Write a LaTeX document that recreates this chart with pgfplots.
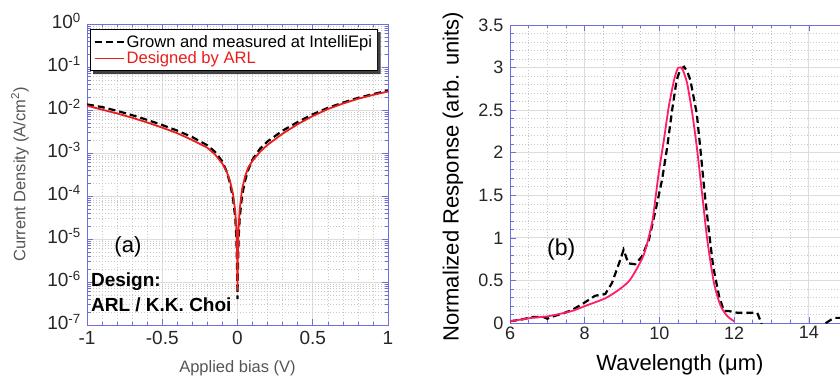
\documentclass[border=0pt]{standalone}
\usepackage{fontspec}
\setmainfont{Liberation Sans}
\usepackage{pgfplots}
\pgfplotsset{compat=1.18}

\definecolor{axblue}{RGB}{110,110,220}
\definecolor{majgrid}{RGB}{220,220,220}
\definecolor{mingrid}{RGB}{200,200,200}
\definecolor{redA}{RGB}{232,30,30}
\definecolor{pinkB}{RGB}{255,30,100}
\definecolor{lblgray}{RGB}{85,85,85}

\pgfplotsset{
  myaxis/.style={
    scale only axis,
    axis line style={axblue, line width=0.8pt},
    every tick/.style={axblue, line width=0.6pt},
    tick align=inside,
    major tick length=6pt,
    minor tick length=3.5pt,
    grid=both,
    major grid style={majgrid, line width=0.8pt},
    minor grid style={mingrid, dash pattern=on 1pt off 2pt, line width=0.6pt},
    clip=true,
  }
}

\pgfplotstableread{
V J
-1.0 1.35e-2
-0.9 1.17e-2
-0.8 9.55e-3
-0.7 7.59e-3
-0.6 5.89e-3
-0.5 4.47e-3
-0.4 3.31e-3
-0.3 2.34e-3
-0.2 1.51e-3
-0.15 1.07e-3
-0.1 6.31e-4
-0.07 3.55e-4
-0.05 2.0e-4
-0.03 8.9e-5
-0.015 3.16e-5
-0.007 1.0e-5
-0.002 1.58e-6
0.0 4.0e-7
0.002 1.58e-6
0.007 1.0e-5
0.015 3.16e-5
0.03 1.0e-4
0.05 2.24e-4
0.07 3.98e-4
0.1 7.08e-4
0.15 1.26e-3
0.2 1.86e-3
0.3 3.31e-3
0.4 5.25e-3
0.5 7.94e-3
0.6 1.12e-2
0.7 1.48e-2
0.8 1.91e-2
0.9 2.34e-2
1.0 2.82e-2
}\measIV

\pgfplotstableread{
V J
-1.0 1.26e-2
-0.9 1.02e-2
-0.8 8.32e-3
-0.7 6.61e-3
-0.6 5.13e-3
-0.5 3.89e-3
-0.4 2.88e-3
-0.3 2.00e-3
-0.2 1.32e-3
-0.15 9.33e-4
-0.1 5.62e-4
-0.07 3.55e-4
-0.05 2.24e-4
-0.03 1.12e-4
-0.015 4.47e-5
-0.007 1.58e-5
-0.002 3.16e-6
0.0 6.31e-7
0.002 3.16e-6
0.007 1.78e-5
0.015 5.01e-5
0.03 1.41e-4
0.05 2.82e-4
0.07 4.47e-4
0.1 6.61e-4
0.15 1.07e-3
0.2 1.55e-3
0.3 2.82e-3
0.4 4.68e-3
0.5 7.24e-3
0.6 1.05e-2
0.7 1.41e-2
0.8 1.82e-2
0.9 2.24e-2
1.0 2.69e-2
}\desIV

\pgfplotstableread{
L R
6.0 0.02
6.3 0.04
6.6 0.07
6.9 0.07
7.0 0.05
7.1 0.07
7.4 0.11
7.65 0.15
7.96 0.23
8.28 0.32
8.55 0.34
8.73 0.47
8.95 0.74
9.04 0.86
9.17 0.70
9.35 0.69
9.53 0.78
9.72 0.98
9.92 1.37
10.07 1.68
10.21 2.07
10.34 2.50
10.46 2.85
10.56 2.98
10.66 3.01
10.75 2.95
10.83 2.85
11.0 2.46
11.1 2.03
11.21 1.53
11.33 1.06
11.44 0.66
11.6 0.31
11.73 0.14
11.86 0.14
12.09 0.12
12.36 0.12
12.62 0.12
12.71 0.02
12.8 -0.1
14.4 -0.1
14.46 0.0
14.6 0.04
14.7 0.06
14.84 0.06
}\measSp

\pgfplotstableread{
L R
6.0 0.02
6.58 0.06
7.03 0.08
7.65 0.14
8.01 0.20
8.55 0.29
8.91 0.39
9.22 0.51
9.58 0.80
9.80 1.17
9.89 1.45
9.98 1.76
10.12 2.15
10.25 2.54
10.39 2.85
10.49 2.99
10.55 3.0
10.61 2.99
10.74 2.82
10.88 2.46
11.0 2.07
11.15 1.49
11.28 0.98
11.46 0.47
11.64 0.20
11.82 0.08
12.0 0.02
}\desSp

\begin{document}
\begin{tikzpicture}[x=1pt,y=1pt]
\path[use as bounding box] (0,0) rectangle (840,378);

% ---------------- (a) ----------------
\begin{axis}[myaxis,
  at={(87pt,53pt)}, anchor=south west,
  width=301pt, height=301pt,
  xmin=-1, xmax=1,
  ymode=log, ymin=1e-7, ymax=1,
  xtick={-1,-0.5,0,0.5,1},
  xticklabels={-1,-0.5,0,0.5,1},
  minor x tick num=4,
  ytick={1e-7,1e-6,1e-5,1e-4,1e-3,1e-2,1e-1,1},
  yticklabels={10\textsuperscript{-7},10\textsuperscript{-6},10\textsuperscript{-5},10\textsuperscript{-4},10\textsuperscript{-3},10\textsuperscript{-2},10\textsuperscript{-1},10\textsuperscript{0}},
  tick label style={font=\fontsize{19}{21}\selectfont, text=black!85, inner sep=1pt},
  xticklabel style={yshift=-5pt},
  yticklabel style={xshift=-5pt, yshift=3pt},
  xlabel={Applied bias (V)},
  ylabel={Current Density (A/cm\textsuperscript{2})},
  xlabel style={at={(axis description cs:0.5,-0.143)}, anchor=center, font=\fontsize{16.5}{18}\selectfont, text=lblgray},
  ylabel style={at={(axis description cs:-0.2226,0.5)}, anchor=center, rotate=0, font=\fontsize{16.5}{18}\selectfont, text=lblgray},
  legend style={name=legA, at={(0.01,0.983)}, anchor=north west, draw=black, line width=1pt,
    fill=white,
    font=\fontsize{16.6}{19}\selectfont, inner xsep=3pt, inner ysep=4pt,
    nodes={inner ysep=1.5pt, inner xsep=2pt}, cells={anchor=west}},
  legend image code/.code={\draw[#1] (0pt,0pt) -- (29pt,0pt);},
]
\addplot[black, line width=2.2pt, dash pattern=on 7pt off 4pt] table[x=V, y=J] {\measIV};
\addlegendentry{Grown and measured at IntelliEpi}
\addplot[redA, line width=1.8pt] table[x=V, y=J] {\desIV};
\addlegendentry{\textcolor{redA}{Designed by ARL}}
\node[font=\fontsize{22}{24}\selectfont, anchor=center] at (axis description cs:0.136,0.259) {(a)};
\node[font=\bfseries\fontsize{19}{21}\selectfont, anchor=west, inner sep=0pt] at (axis description cs:0.013,0.143) {Design:};
\node[font=\bfseries\fontsize{19}{21}\selectfont, anchor=west, inner sep=0pt] at (axis description cs:0.013,0.066) {ARL / K.K. Choi};
\end{axis}
% legend drop shadow (L-shaped strip on the right and bottom)
\fill[black!75] ([yshift=-3pt]legA.north east) -- ([xshift=3pt,yshift=-3pt]legA.north east)
  -- ([xshift=3pt,yshift=-3pt]legA.south east) -- ([xshift=3pt,yshift=-3pt]legA.south west)
  -- ([xshift=3pt]legA.south west) -- (legA.south east) -- cycle;

% ---------------- (b) ----------------
\begin{axis}[myaxis,
  at={(510pt,55pt)}, anchor=south west,
  width=330pt, height=298pt,
  xmin=6, xmax=14.835,
  ymin=0, ymax=3.5,
  axis y line*=left,
  xtick={6,8,10,12,14},
  xticklabels={6,8,10,12,14},
  minor x tick num=3,
  ytick={0,0.5,1,1.5,2,2.5,3,3.5},
  yticklabels={0,0.5,1,1.5,2,2.5,3,3.5},
  minor y tick num=4,
  tick label style={font=\fontsize{18}{20}\selectfont, text=black!85},
  yticklabel style={xshift=-3pt},
  xlabel={Wavelength (μm)},
  ylabel={Normalized Response (arb. units)},
  xlabel style={at={(axis description cs:0.515,-0.141)}, anchor=center, font=\fontsize{22}{24}\selectfont},
  ylabel style={at={(axis description cs:-0.1727,0.49)}, anchor=center, rotate=0, font=\fontsize{22}{24}\selectfont},
]
\addplot[black, line width=2.2pt, dash pattern=on 7pt off 4pt] table[x=L, y=R] {\measSp};
\addplot[pinkB, line width=1.8pt, smooth, tension=0.4] table[x=L, y=R] {\desSp};
\node[font=\fontsize{23}{25}\selectfont, anchor=center] at (axis description cs:0.155,0.248) {(b)};
\end{axis}
\end{tikzpicture}
\end{document}
